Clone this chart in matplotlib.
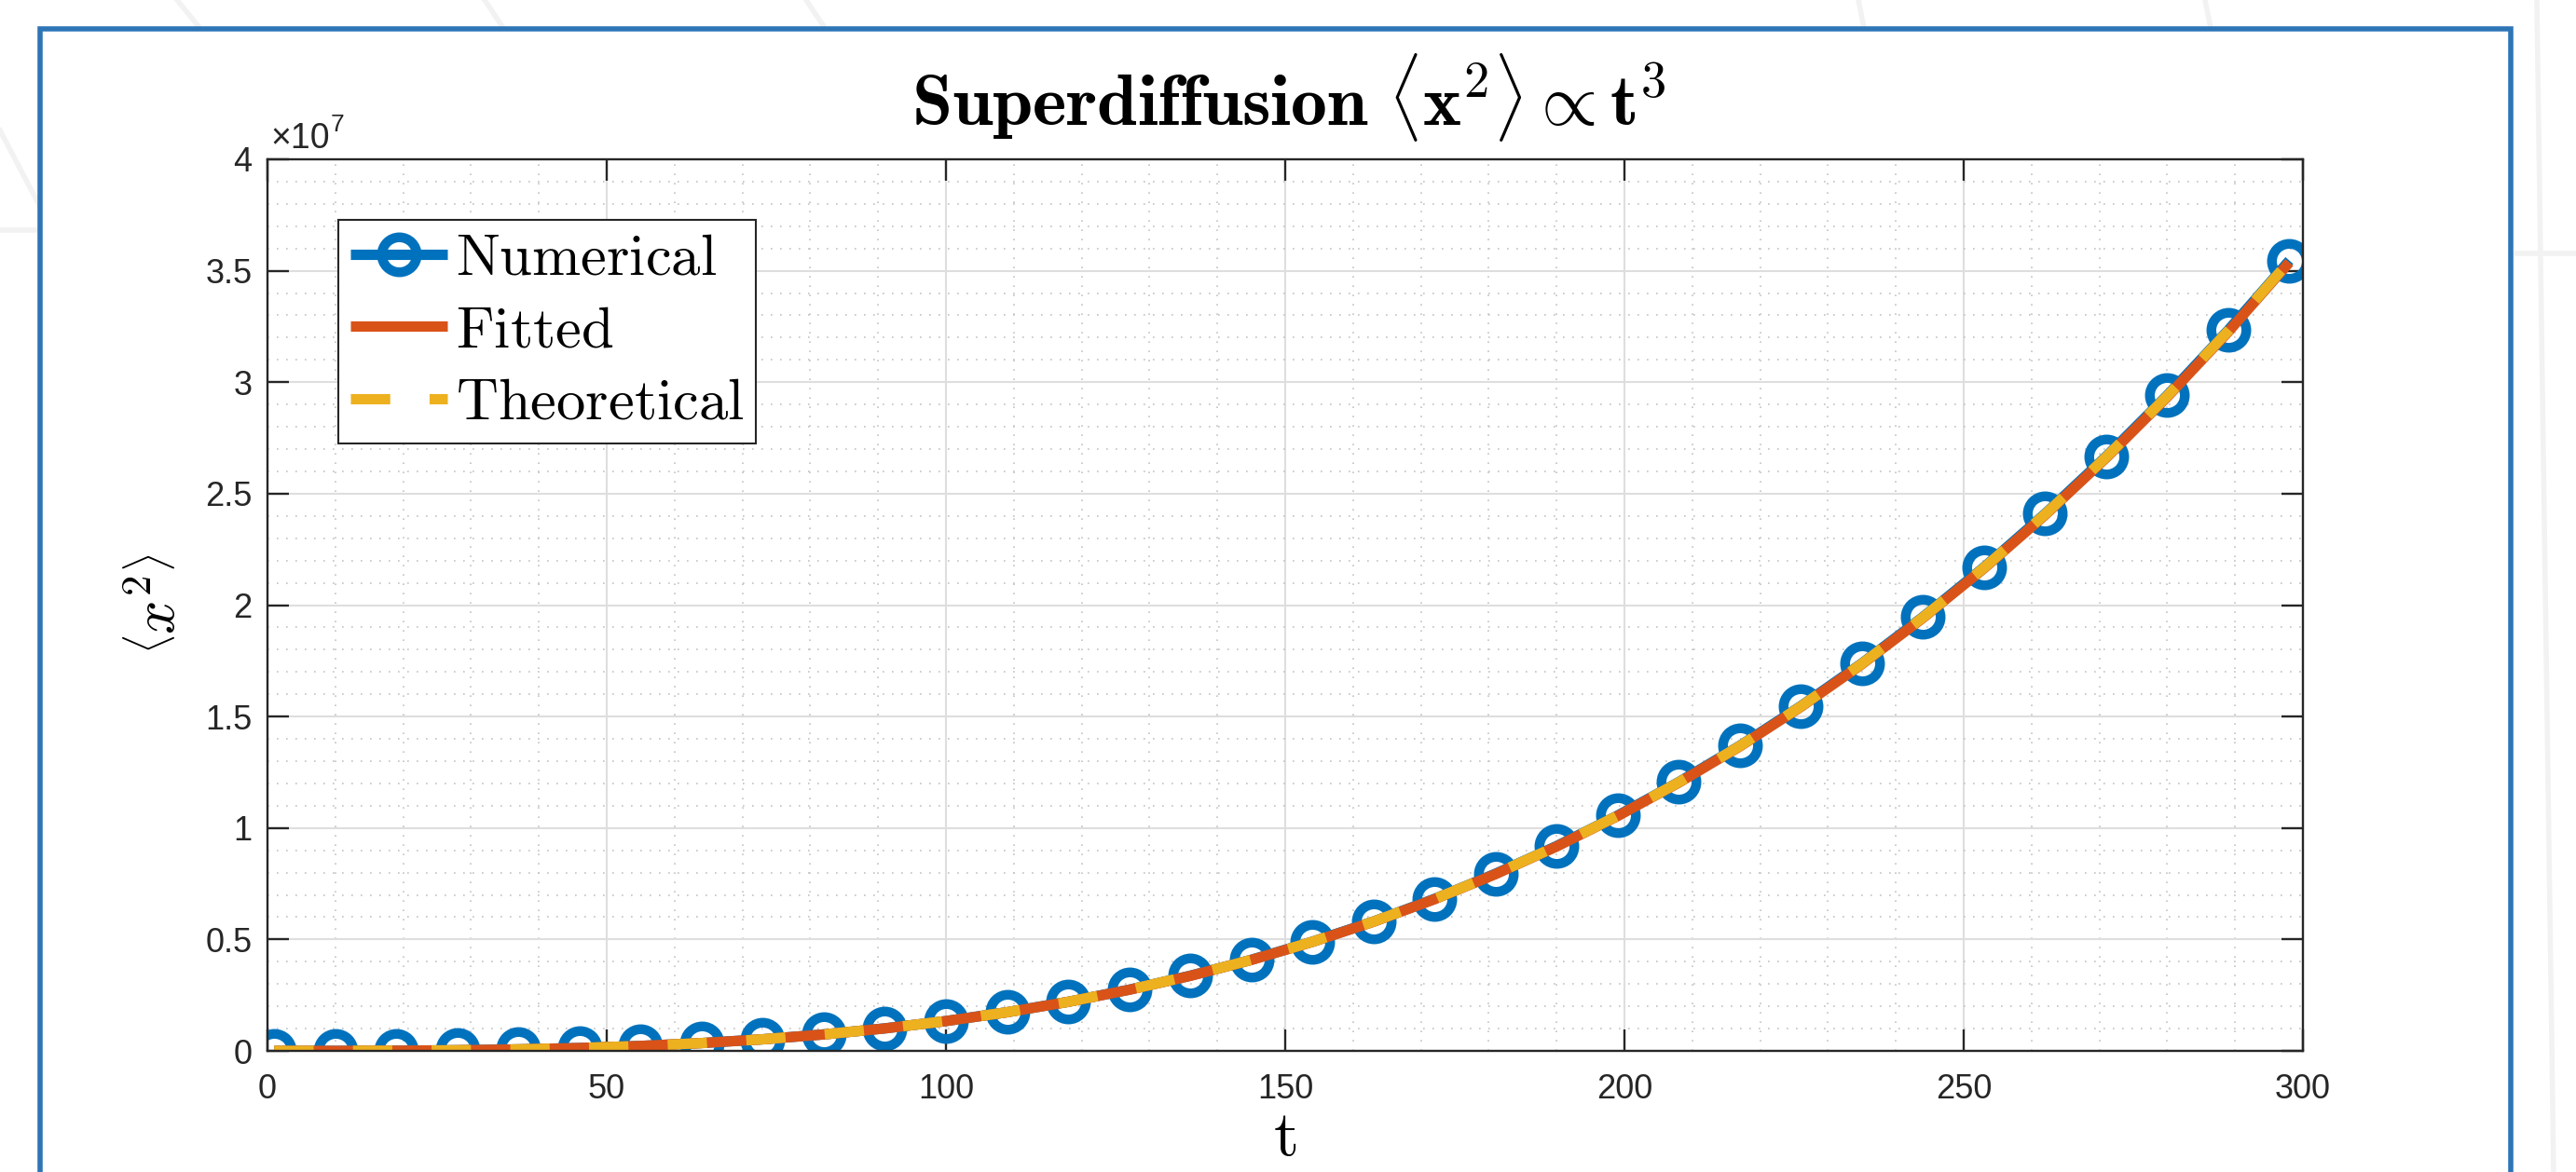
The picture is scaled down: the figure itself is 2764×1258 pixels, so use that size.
import matplotlib
matplotlib.use('Agg')
import matplotlib.pyplot as plt
from matplotlib.patches import Rectangle
from matplotlib.lines import Line2D
from matplotlib.ticker import MultipleLocator

plt.rcParams['mathtext.fontset'] = 'cm'
plt.rcParams['font.family'] = ['Liberation Sans', 'DejaVu Sans']

# ---------------- data ----------------
t_num = [1, 10, 19, 28, 37, 46, 55, 64, 73, 82, 91, 100, 109, 118, 127, 136, 145,
         154, 163, 172, 181, 190, 199, 208, 217, 226, 235, 244, 253, 262, 271, 280,
         289, 298]
msd_num = [0.0000e7, 0.0001e7, 0.0009e7, 0.0030e7, 0.0068e7, 0.0130e7, 0.0222e7,
           0.0352e7, 0.0521e7, 0.0740e7, 0.1011e7, 0.1340e7, 0.1736e7, 0.2203e7,
           0.2746e7, 0.3372e7, 0.4088e7, 0.4900e7, 0.5805e7, 0.6820e7, 0.7950e7,
           0.9190e7, 1.0560e7, 1.2060e7, 1.3690e7, 1.5470e7, 1.7390e7, 1.9470e7,
           2.1700e7, 2.4100e7, 2.6670e7, 2.9410e7, 3.2340e7, 3.5460e7]

t_fit = t_num
msd_fit = [0.0000e7, 0.0001e7, 0.0009e7, 0.0029e7, 0.0068e7, 0.0130e7, 0.0222e7,
           0.0351e7, 0.0520e7, 0.0738e7, 0.1009e7, 0.1337e7, 0.1732e7, 0.2198e7,
           0.2740e7, 0.3364e7, 0.4078e7, 0.4888e7, 0.5791e7, 0.6803e7, 0.7930e7,
           0.9168e7, 1.0535e7, 1.2031e7, 1.3657e7, 1.5433e7, 1.7348e7, 1.9423e7,
           2.1648e7, 2.4042e7, 2.6606e7, 2.9339e7, 3.2262e7, 3.5375e7]

t_th = t_num
msd_th = [0.0000e7, 0.0001e7, 0.0009e7, 0.0029e7, 0.0068e7, 0.0130e7, 0.0222e7,
          0.0351e7, 0.0521e7, 0.0739e7, 0.1010e7, 0.1339e7, 0.1735e7, 0.2201e7,
          0.2744e7, 0.3369e7, 0.4084e7, 0.4895e7, 0.5800e7, 0.6813e7, 0.7941e7,
          0.9181e7, 1.0550e7, 1.2048e7, 1.3676e7, 1.5454e7, 1.7372e7, 1.9449e7,
          2.1677e7, 2.4074e7, 2.6641e7, 2.9378e7, 3.2305e7, 3.5422e7]

x_ticks = [0, 50, 100, 150, 200, 250, 300]
y_ticks = [0, 0.5e7, 1.0e7, 1.5e7, 2.0e7, 2.5e7, 3.0e7, 3.5e7, 4.0e7]
y_tick_labels = ['0', '0.5', '1', '1.5', '2', '2.5', '3', '3.5', '4']
labels = [r'$\mathrm{Numerical}$', r'$\mathrm{Fitted}$', r'$\mathrm{Theoretical}$']
title = (r'$\mathbf{Superdiffusion}\ \langle\mathbf{x}^{\mathbf{2}}\rangle'
         r' \propto \mathbf{t}^{\mathbf{3}}$')

# ---------------- figure ----------------
W, H = 2764, 1258
fig = plt.figure(figsize=(W / 100, H / 100), dpi=100)
fig.patch.set_facecolor('white')


def fx(px):
    return px / W


def fy(py):
    return 1 - py / H


# faint decorative background strokes
bg_strokes = [((190, 0), (216, 32)), ((520, 0), (540, 30)), ((865, 0), (885, 30)),
              ((1994, 0), (2000, 30)), ((2366, 0), (2372, 30)),
              ((0, 140), (42, 220)), ((0, 247), (42, 247)),
              ((2722, 0), (2740, 1258)), ((2700, 272), (2764, 272))]
for (x0, y0), (x1, y1) in bg_strokes:
    fig.add_artist(Line2D([fx(x0), fx(x1)], [fy(y0), fy(y1)], color='#f2f2f2',
                          lw=4, transform=fig.transFigure, zorder=-3))

frame = Rectangle((fx(43), fy(1320)), fx(2694) - fx(43), fy(31) - fy(1320),
                  transform=fig.transFigure, facecolor='white',
                  edgecolor='#2E75B6', lw=4, zorder=-2)
fig.add_artist(frame)

ax = fig.add_axes([fx(287), fy(1128), (2471 - 287) / W, (1128 - 171) / H])
ax.set_facecolor('white')

ax.plot(t_num, msd_num, '-o', color='#0072BD', lw=8, ms=27, mew=7.5,
        mfc='none', mec='#0072BD', label=labels[0], solid_capstyle='butt')
ax.plot(t_fit, msd_fit, '-', color='#D95319', lw=8, label=labels[1],
        solid_capstyle='butt')
ax.plot(t_th, msd_th, '--', color='#EDB120', lw=8, dashes=(3.8, 3.8),
        label=labels[2], dash_capstyle='butt')

ax.set_xlim(0, 300)
ax.set_ylim(0, 4e7)
ax.set_xticks(x_ticks)
ax.set_xticklabels([str(v) for v in x_ticks])
ax.set_yticks(y_ticks)
ax.set_yticklabels(y_tick_labels)
ax.xaxis.set_minor_locator(MultipleLocator(10))
ax.yaxis.set_minor_locator(MultipleLocator(0.1e7))

ax.set_axisbelow(True)
ax.grid(which='major', color='#dedede', lw=1.5, linestyle='-')
ax.grid(which='minor', color='#c4c4c4', lw=1.2, linestyle=(0, (1, 5)))

ax.tick_params(which='major', direction='in', length=16.5, width=1.7,
               top=True, right=True, labelsize=26, color='#262626',
               labelcolor='#262626')
ax.tick_params(axis='x', which='major', pad=17)
ax.tick_params(axis='y', which='major', pad=12)
ax.tick_params(which='minor', length=0, top=True, right=True)
for s in ax.spines.values():
    s.set_linewidth(1.7)
    s.set_color('#262626')

leg = ax.legend(loc='upper left',
                bbox_to_anchor=((363 - 287) / 2184, 1 - (236 - 171) / 957),
                fontsize=45, handlelength=1.67, handletextpad=0.15,
                borderpad=0.2, labelspacing=0.3, borderaxespad=0,
                fancybox=False, edgecolor='#262626', framealpha=1)
leg.get_frame().set_linewidth(1.5)

# exponent label
t_exp = fig.text(fx(290), fy(159), '×10', fontsize=27, va='baseline', ha='left',
                 color='#262626')
fig.canvas.draw()
bb = t_exp.get_window_extent()
fig.text((bb.x1 + 1) / W, fy(141), '7', fontsize=19, va='baseline', ha='left',
         color='#262626')

# title and axis labels
fig.text(fx(1383), fy(134), title, fontsize=56, ha='center', va='baseline')
fig.text(fx(1379), fy(1254), r'$\mathrm{t}$', fontsize=50, ha='center',
         va='bottom')
fig.text(fx(170), fy(648), r'$\left\langle x^{2}\right\rangle$', fontsize=46,
         rotation=90, ha='center', va='center')

fig.savefig('out.png', dpi=100, facecolor='white')
